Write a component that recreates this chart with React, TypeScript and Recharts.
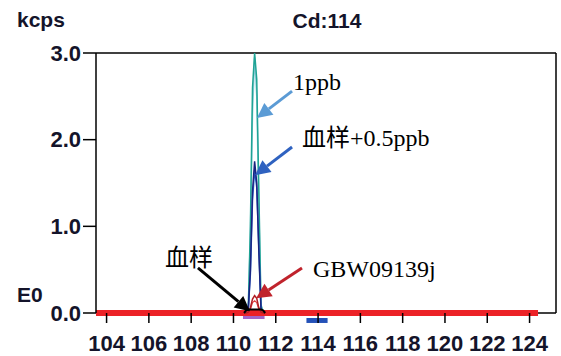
import { ComposedChart, Line, XAxis, YAxis, ReferenceLine, ReferenceArea } from 'recharts';

// mass axis
const massTicks = [104, 106, 108, 110, 112, 114, 116, 118, 120, 122, 124];
const countTicks = [0, 1, 2, 3];

// peak scan around Cd 111 (kcps)
const peakMass = [110.5, 110.6, 110.7, 110.8, 110.9, 111.0, 111.1, 111.2, 111.3, 111.4, 111.5];
const std1ppb = [0, 0, 0.05, 1.0, 2.6, 3.0, 2.7, 1.4, 0.1, 0, 0];
const std1ppbRep = [0, 0, 0.05, 0.9, 2.3, 2.95, 2.5, 1.2, 0.08, 0, 0];
const spiked = [0, 0, 0.04, 0.5, 1.4, 1.75, 1.5, 0.7, 0.05, 0, 0];
const spikedRep = [0, 0, 0.04, 0.45, 1.3, 1.65, 1.45, 0.75, 0.06, 0, 0];
const gbw = [0, 0, 0.01, 0.06, 0.16, 0.2, 0.17, 0.06, 0.01, 0, 0];
const gbwRep = [0, 0, 0.01, 0.04, 0.12, 0.14, 0.12, 0.04, 0.01, 0, 0];
const blood = [0, 0.03, 0.04, 0.04, 0.04, 0.04, 0.04, 0.04, 0.04, 0.03, 0];

// baseline trace
const baseMass = [103.5, 124.4];
const baseValue = [0, 0];

// window markers under the axis
const windowMarks = [
  { from: 110.45, to: 111.47, color: '#a366c8', top: 0, bottom: -0.07 },
  { from: 113.45, to: 114.45, color: '#2451b8', top: -0.058, bottom: -0.115 },
];

// annotations: label, colour, arrow tail -> head (mass, kcps), text offset from tail
const notes = [
  { text: '1ppb', color: '#5b9bd5', from: [112.77, 2.56], to: [111.11, 2.25], dx: 1, dy: -1 },
  { text: '血样+0.5ppb', color: '#2f62c0', from: [112.77, 1.915], to: [111.02, 1.59], dx: 10, dy: -1 },
  { text: 'GBW09139j', color: '#c0232c', from: [113.24, 0.52], to: [111.07, 0.17], dx: 11, dy: 9 },
  { text: '血样', color: '#000000', from: [108.32, 0.52], to: [110.78, 0.02], dx: -33, dy: -2 },
];

const toRows = (xs: number[], ys: number[]) => xs.map((m, i) => ({ m, v: ys[i] }));

const tickFont = {
  fontSize: 22,
  fontWeight: 700,
  fill: '#14142a',
  fontFamily: '"Liberation Sans", Arial, sans-serif',
};

function arrow(color: string, text: string, dx: number, dy: number) {
  return (p: any) => {
    const x1 = Number(p.x1), y1 = Number(p.y1), x2 = Number(p.x2), y2 = Number(p.y2);
    const a = Math.atan2(y2 - y1, x2 - x1);
    const len = 15, half = 7.5;
    const bx = x2 - len * Math.cos(a), by = y2 - len * Math.sin(a);
    const nx = -Math.sin(a) * half, ny = Math.cos(a) * half;
    return (
      <g>
        <line x1={x1} y1={y1} x2={bx} y2={by} stroke={color} strokeWidth={3} />
        <polygon points={`${x2},${y2} ${bx + nx},${by + ny} ${bx - nx},${by - ny}`} fill={color} />
        <text
          x={x1 + dx}
          y={y1 + dy}
          fontSize={24}
          fill="#000"
          fontFamily='"Liberation Serif", "Times New Roman", "Noto Sans CJK SC", serif'
        >
          {text}
        </text>
      </g>
    );
  };
}

export default function App() {
  return (
    <div style={{ position: 'absolute', left: 0, top: 0, width: 561, height: 356, background: '#fff' }}>
      <ComposedChart width={561} height={356} margin={{ top: 53, right: 5, bottom: 0, left: 0 }}>
        <XAxis
          type="number"
          dataKey="m"
          domain={[103.5, 125.25]}
          ticks={massTicks}
          height={43}
          tickSize={10}
          tickMargin={12}
          axisLine={false}
          tickLine={{ stroke: '#000', strokeWidth: 1.5 }}
          tick={tickFont}
          interval={0}
        />
        <YAxis
          type="number"
          dataKey="v"
          domain={[0, 3]}
          ticks={countTicks}
          width={96}
          tickSize={13}
          tickMargin={2}
          stroke="#000"
          strokeWidth={1.5}
          tick={tickFont}
          tickFormatter={(v: number) => v.toFixed(1)}
        />
        <ReferenceLine y={3} stroke="#000" strokeWidth={1.5} />
        <ReferenceLine x={125.25} stroke="#000" strokeWidth={1.5} />
        <ReferenceLine
          segment={[
            { x: 124.4, y: 0 },
            { x: 125.25, y: 0 },
          ]}
          stroke="#000"
          strokeWidth={1.5}
        />

        <Line data={toRows(peakMass, std1ppbRep)} dataKey="v" stroke="#8fd0dc" strokeWidth={1.5} dot={false} isAnimationActive={false} />
        <Line data={toRows(peakMass, std1ppb)} dataKey="v" stroke="#1fa394" strokeWidth={1.5} dot={false} isAnimationActive={false} />
        <Line data={toRows(peakMass, spikedRep)} dataKey="v" stroke="#2f62d0" strokeWidth={1.5} dot={false} isAnimationActive={false} />
        <Line data={toRows(peakMass, spiked)} dataKey="v" stroke="#1a237e" strokeWidth={1.5} dot={false} isAnimationActive={false} />
        <Line data={toRows(baseMass, baseValue)} dataKey="v" stroke="#ec2227" strokeWidth={6} dot={false} isAnimationActive={false} />
        <Line data={toRows(peakMass, gbwRep)} dataKey="v" stroke="#e04040" strokeWidth={1.2} dot={false} isAnimationActive={false} />
        <Line data={toRows(peakMass, gbw)} dataKey="v" stroke="#b01e24" strokeWidth={1.5} dot={false} isAnimationActive={false} />
        <Line data={toRows(peakMass, blood)} dataKey="v" stroke="#000" strokeWidth={2} dot={false} isAnimationActive={false} />

        {windowMarks.map((w) => (
          <ReferenceArea
            key={w.from}
            x1={w.from}
            x2={w.to}
            y1={w.bottom}
            y2={w.top}
            fill={w.color}
            fillOpacity={1}
            stroke="none"
            ifOverflow="visible"
          />
        ))}

        {notes.map((n) => (
          <ReferenceLine
            key={n.text}
            segment={[
              { x: n.from[0], y: n.from[1] },
              { x: n.to[0], y: n.to[1] },
            ]}
            ifOverflow="visible"
            shape={arrow(n.color, n.text, n.dx, n.dy)}
          />
        ))}
      </ComposedChart>
      <svg
        width={561}
        height={356}
        style={{ position: 'absolute', left: 0, top: 0, pointerEvents: 'none' }}
        fontFamily='"Liberation Sans", Arial, sans-serif'
        fontWeight={700}
        fontSize={21}
        fill="#14142a"
      >
        <text x={17} y={27}>kcps</text>
        <text x={327} y={28} textAnchor="middle">Cd:114</text>
        <text x={17} y={302}>E0</text>
      </svg>
    </div>
  );
}
